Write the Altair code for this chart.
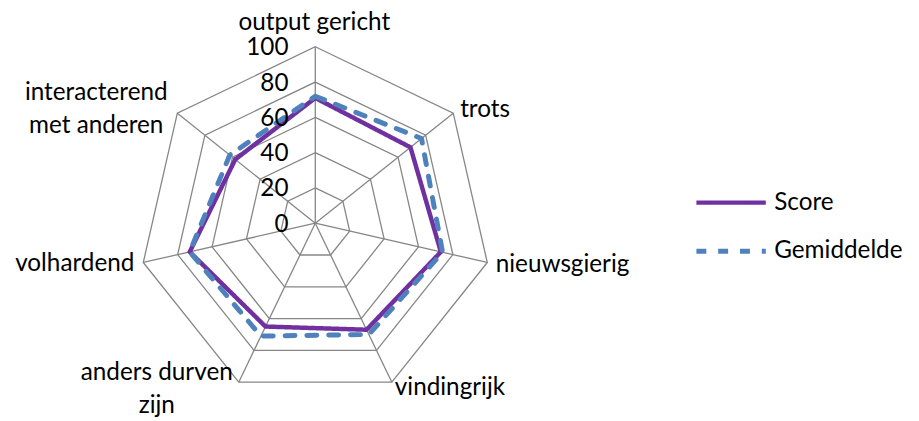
import altair as alt
import pandas as pd

categories = ["output gericht", "trots", "nieuwsgierig", "vindingrijk",
              "anders durven\nzijn", "volhardend", "interacterend\nmet anderen"]
score = [71, 69, 73, 67, 65, 73, 58]
gemiddelde = [72, 77, 74, 70, 71, 73, 62]
series_names = ["Score", "Gemiddelde"]
grid_levels = [20, 40, 60, 80, 100]
tick_labels = [0, 20, 40, 60, 80, 100]

n = len(categories)
FONT = "Lato"
FS = 24.5
GRID = "#868686"

series_df = pd.DataFrame(
    [{"series": s, "idx": i, "category": c, "value": v}
     for s, vals in zip(series_names, [score, gemiddelde])
     for i, (c, v) in enumerate(zip(categories, vals))]
)
grid_df = pd.DataFrame([{"level": L, "idx": i} for L in grid_levels for i in range(n)])
cat_df = pd.DataFrame({"idx": list(range(n)), "category": categories})
tick_df = pd.DataFrame({"level": tick_labels, "label": [str(t) for t in tick_labels]})

ang = f"2*PI*datum.idx/{n}"
xs = alt.Scale(domain=[-174.16, 337.64], nice=False, zero=False)
ys = alt.Scale(domain=[-111.07, 120.96], nice=False, zero=False)


def X(f):
    return alt.X(f, type="quantitative", scale=xs, axis=None)


def Y(f):
    return alt.Y(f, type="quantitative", scale=ys, axis=None)


grid = alt.Chart(grid_df).transform_calculate(
    gx=f"datum.level*sin({ang})", gy=f"datum.level*cos({ang})"
).mark_line(interpolate="linear-closed", color=GRID, strokeWidth=1.3).encode(
    x=X("gx"), y=Y("gy"), detail="level:N", order="idx:Q"
)

spokes = alt.Chart(cat_df).transform_calculate(
    x0="0", y0="0", x1=f"100*sin({ang})", y1=f"100*cos({ang})"
).mark_rule(color=GRID, strokeWidth=1.3).encode(
    x=X("x0"), y=Y("y0"), x2="x1:Q", y2="y1:Q"
)

lines = alt.Chart(series_df).transform_calculate(
    px=f"datum.value*sin({ang})", py=f"datum.value*cos({ang})"
).mark_line(interpolate="linear-closed", strokeCap="round", strokeJoin="round").encode(
    x=X("px"), y=Y("py"), order="idx:Q",
    color=alt.Color("series:N", sort=series_names,
                    scale=alt.Scale(domain=series_names, range=["#7030A0", "#4F81BD"]),
                    legend=alt.Legend(title=None, orient="none", legendX=692, legendY=157,
                                      symbolType="stroke", symbolSize=4900,
                                      labelFont=FONT, labelFontSize=FS, labelColor="#000000",
                                      labelOffset=6, rowPadding=-24, padding=0, labelLimit=300)),
    strokeDash=alt.StrokeDash("series:N", sort=series_names,
                              scale=alt.Scale(domain=series_names, range=[[1, 0], [10, 12]])),
    strokeWidth=alt.StrokeWidth("series:N", sort=series_names,
                                scale=alt.Scale(domain=series_names, range=[4.5, 5])),
)

ticks = alt.Chart(tick_df).transform_calculate(tx="0", ty="datum.level").mark_text(
    font=FONT, fontSize=FS, align="right", baseline="alphabetic", dx=-27, dy=8.5, color="#000000"
).encode(x=X("tx"), y=Y("ty"), text="label:N")

label_styles = [
    ("center", -1, -16.5),
    ("left", 7, 4),
    ("left", 8.5, 10),
    ("left", 3, 13),
    ("center", -82.7, -2),
    ("right", -9, 9),
    ("center", -81.8, -13),
]
label_layers = []
for i, (al, ddx, ddy) in enumerate(label_styles):
    label_layers.append(
        alt.Chart(cat_df).transform_filter(f"datum.idx == {i}").transform_calculate(
            lx=f"100*sin({ang})", ly=f"100*cos({ang})"
        ).mark_text(font=FONT, fontSize=FS, align=al, baseline="alphabetic", dx=ddx, dy=ddy,
                    lineBreak="\n", lineHeight=33, color="#000000").encode(
            x=X("lx"), y=Y("ly"), text="category:N"
        )
    )

chart = alt.layer(grid, spokes, lines, ticks, *label_layers).properties(
    width=911, height=413, autosize="none", padding=0
).configure_view(stroke=None)

chart.save("out.html", embed_options={"renderer": "svg", "actions": False})
